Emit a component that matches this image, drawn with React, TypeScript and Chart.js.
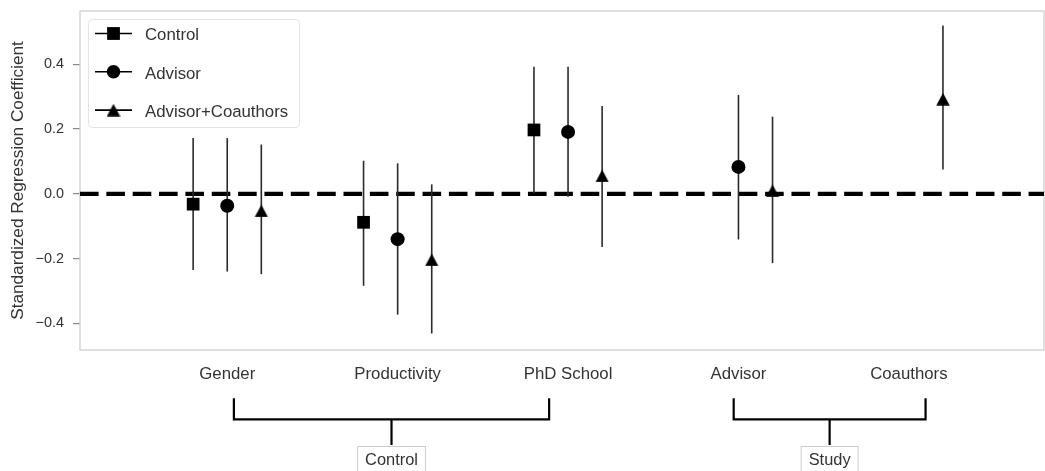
import React, { useEffect, useRef } from 'react';
import { Chart, registerables } from 'chart.js';

Chart.register(...registerables);

const FONT = '"Liberation Sans", Arial, "Helvetica Neue", sans-serif';

const categories = ['Gender', 'Productivity', 'PhD School', 'Advisor', 'Coauthors'];
const seriesNames = ['Control', 'Advisor', 'Advisor+Coauthors'];
const seriesOffsets = [-0.2, 0, 0.2];

const controlCats = [0, 1, 2];
const controlCoef = [-0.032, -0.088, 0.197];
const controlLow = [-0.235, -0.284, 0.002];
const controlHigh = [0.172, 0.102, 0.392];

const advisorCats = [0, 1, 2, 3];
const advisorCoef = [-0.037, -0.14, 0.191, 0.083];
const advisorLow = [-0.24, -0.373, -0.009, -0.141];
const advisorHigh = [0.172, 0.094, 0.392, 0.305];

const coauthCats = [0, 1, 2, 3, 4];
const coauthCoef = [-0.053, -0.204, 0.055, 0.009, 0.292];
const coauthLow = [-0.248, -0.431, -0.164, -0.214, 0.075];
const coauthHigh = [0.152, 0.029, 0.271, 0.238, 0.519];

const yTicks = [-0.4, -0.2, 0, 0.2, 0.4];
const xRange = [-0.864, 4.793];
const yRange = [-0.482, 0.564];

const groupLabels = ['Control', 'Study'];
const groupStart = [0.039, 2.972];
const groupEnd = [1.889, 4.098];

type Pt = { x: number; y: number; lo: number; hi: number };

function buildPoints(cats: number[], coef: number[], lo: number[], hi: number[], offset: number): Pt[] {
  return cats.map((c, i) => ({ x: c + offset, y: coef[i], lo: lo[i], hi: hi[i] }));
}

function makeTriangle(): HTMLCanvasElement {
  const c = document.createElement('canvas');
  c.width = 14;
  c.height = 13;
  const g = c.getContext('2d')!;
  g.fillStyle = '#000';
  g.beginPath();
  g.moveTo(7, 0.3);
  g.lineTo(13.7, 12.7);
  g.lineTo(0.3, 12.7);
  g.closePath();
  g.fill();
  return c;
}

function drawMarker(ctx: CanvasRenderingContext2D, kind: number, x: number, y: number, tri: HTMLCanvasElement) {
  ctx.fillStyle = '#000';
  if (kind === 0) {
    ctx.fillRect(x - 6.4, y - 6.4, 12.8, 12.8);
  } else if (kind === 1) {
    ctx.beginPath();
    ctx.arc(x, y, 6.8, 0, Math.PI * 2);
    ctx.fill();
  } else {
    ctx.drawImage(tri, x - tri.width / 2, y - tri.height / 2);
  }
}

export default function App() {
  const ref = useRef<HTMLCanvasElement | null>(null);

  useEffect(() => {
    if (!ref.current) return;
    const tri = makeTriangle();

    const seriesPoints = [
      buildPoints(controlCats, controlCoef, controlLow, controlHigh, seriesOffsets[0]),
      buildPoints(advisorCats, advisorCoef, advisorLow, advisorHigh, seriesOffsets[1]),
      buildPoints(coauthCats, coauthCoef, coauthLow, coauthHigh, seriesOffsets[2]),
    ];

    const framePlugin = {
      id: 'frame',
      beforeDatasetsDraw(chart: any) {
        const { ctx, chartArea: a } = chart;
        ctx.save();
        ctx.strokeStyle = '#cfcfcf';
        ctx.lineWidth = 1.3;
        ctx.strokeRect(a.left, a.top, a.right - a.left, a.bottom - a.top);
        ctx.restore();
      },
    };

    const errorPlugin = {
      id: 'errorBars',
      afterDatasetDraw(chart: any, args: any) {
        if (args.index !== 0) return;
        const { ctx } = chart;
        const xs = chart.scales.x;
        const ys = chart.scales.y;
        ctx.save();
        ctx.strokeStyle = '#2a2a2a';
        ctx.lineWidth = 1.6;
        for (let d = 1; d < chart.data.datasets.length; d++) {
          const data = chart.data.datasets[d].data as Pt[];
          for (const p of data) {
            const px = xs.getPixelForValue(p.x);
            ctx.beginPath();
            ctx.moveTo(px, ys.getPixelForValue(p.lo));
            ctx.lineTo(px, ys.getPixelForValue(p.hi));
            ctx.stroke();
          }
        }
        ctx.restore();
      },
    };

    const legendPlugin = {
      id: 'customLegend',
      afterDraw(chart: any) {
        const { ctx } = chart;
        ctx.save();
        const bx = 88.5, by = 19.5, bw = 211, bh = 108, r = 4;
        ctx.beginPath();
        ctx.moveTo(bx + r, by);
        ctx.lineTo(bx + bw - r, by);
        ctx.arcTo(bx + bw, by, bx + bw, by + r, r);
        ctx.lineTo(bx + bw, by + bh - r);
        ctx.arcTo(bx + bw, by + bh, bx + bw - r, by + bh, r);
        ctx.lineTo(bx + r, by + bh);
        ctx.arcTo(bx, by + bh, bx, by + bh - r, r);
        ctx.lineTo(bx, by + r);
        ctx.arcTo(bx, by, bx + r, by, r);
        ctx.closePath();
        ctx.fillStyle = 'rgba(255,255,255,0.8)';
        ctx.fill();
        ctx.strokeStyle = '#e3e3e3';
        ctx.lineWidth = 1;
        ctx.stroke();
        seriesNames.forEach((name, i) => {
          const y = 33.5 + i * 38.3;
          ctx.strokeStyle = '#000';
          ctx.lineWidth = 1.6;
          ctx.beginPath();
          ctx.moveTo(95, y);
          ctx.lineTo(132, y);
          ctx.stroke();
          drawMarker(ctx, i, 113.5, y, tri);
          ctx.fillStyle = '#333';
          ctx.font = `16.8px ${FONT}`;
          ctx.textAlign = 'left';
          ctx.textBaseline = 'alphabetic';
          ctx.fillText(name, 145, y + 6.8);
        });
        ctx.restore();
      },
    };

    const bracketPlugin = {
      id: 'brackets',
      afterDraw(chart: any) {
        const { ctx } = chart;
        const xs = chart.scales.x;
        ctx.save();
        groupLabels.forEach((label, i) => {
          const x1 = xs.getPixelForValue(groupStart[i]);
          const x2 = xs.getPixelForValue(groupEnd[i]);
          const mid = (x1 + x2) / 2;
          ctx.strokeStyle = '#000';
          ctx.lineWidth = 2.2;
          ctx.lineJoin = 'miter';
          ctx.lineCap = 'butt';
          ctx.beginPath();
          ctx.moveTo(x1, 398.3);
          ctx.lineTo(x1, 419.3);
          ctx.lineTo(x2, 419.3);
          ctx.lineTo(x2, 398.3);
          ctx.stroke();
          ctx.beginPath();
          ctx.moveTo(mid, 419.3);
          ctx.lineTo(mid, 445);
          ctx.stroke();
          ctx.font = `16.4px ${FONT}`;
          const w = ctx.measureText(label).width;
          ctx.fillStyle = '#fff';
          ctx.fillRect(mid - w / 2 - 7.5, 446.5, w + 15, 30);
          ctx.strokeStyle = '#cccccc';
          ctx.lineWidth = 1;
          ctx.strokeRect(mid - w / 2 - 7.5, 446.5, w + 15, 30);
          ctx.fillStyle = '#333';
          ctx.textAlign = 'center';
          ctx.textBaseline = 'alphabetic';
          ctx.fillText(label, mid, 464.5);
        });
        ctx.restore();
      },
    };

    const pointStyles: any[] = ['rect', 'circle', tri];
    const radii = [9, 7, 7];

    const chart = new Chart(ref.current, {
      type: 'scatter',
      data: {
        datasets: [
          {
            label: 'zero',
            data: [
              { x: xRange[0], y: 0 },
              { x: xRange[1], y: 0 },
            ],
            showLine: true,
            borderColor: '#000',
            borderWidth: 4.3,
            borderDash: [18.6, 7.75],
            pointRadius: 0,
            order: 10,
          } as any,
          ...seriesNames.map((name, i) => ({
            label: name,
            data: seriesPoints[i],
            pointStyle: pointStyles[i],
            pointRadius: radii[i],
            backgroundColor: '#000',
            borderColor: '#000',
            borderWidth: 0,
            showLine: false,
            order: 0,
          })),
        ],
      },
      options: {
        animation: false,
        responsive: false,
        events: [],
        layout: { autoPadding: false, padding: { top: 11, right: 1, left: 0, bottom: 0 } },
        plugins: {
          legend: { display: false },
          tooltip: { enabled: false },
        },
        scales: {
          x: {
            type: 'linear',
            min: xRange[0],
            max: xRange[1],
            afterBuildTicks: (s: any) => {
              s.ticks = categories.map((_, i) => ({ value: i }));
            },
            afterFit: (s: any) => {
              s.height = 121;
              s.paddingLeft = 0;
              s.paddingRight = 0;
            },
            grid: { display: false, drawTicks: false },
            border: { display: false },
            ticks: {
              autoSkip: false,
              maxRotation: 0,
              padding: 14,
              color: '#333',
              font: { size: 16.8, family: FONT },
              callback: (v: any) => categories[Math.round(Number(v))] ?? '',
            },
          },
          y: {
            type: 'linear',
            min: yRange[0],
            max: yRange[1],
            afterBuildTicks: (s: any) => {
              s.ticks = yTicks.map((v) => ({ value: v }));
            },
            afterFit: (s: any) => {
              s.width = 80;
              s.paddingTop = 0;
              s.paddingBottom = 0;
            },
            grid: { drawOnChartArea: false, drawTicks: true, tickLength: 7, color: '#8a8a8a', lineWidth: 1.2 },
            border: { display: false },
            ticks: {
              padding: 9,
              color: '#333',
              font: { size: 14.4, family: FONT },
              callback: (v: any) => Number(v).toFixed(1).replace('-', '\u2212'),
            },
            title: {
              display: true,
              text: 'Standardized Regression Coefficient',
              color: '#333',
              font: { size: 17.2, family: FONT, lineHeight: 1.2 },
              padding: { top: 7.6, bottom: 0 },
            },
          },
        },
      },
      plugins: [framePlugin, errorPlugin, legendPlugin, bracketPlugin],
    });

    return () => chart.destroy();
  }, []);

  return (
    <div style={{ position: 'fixed', left: 0, top: 0, width: 1045, height: 471, background: '#fff' }}>
      <canvas ref={ref} width={1045} height={471} style={{ display: 'block', width: 1045, height: 471 }} />
    </div>
  );
}
